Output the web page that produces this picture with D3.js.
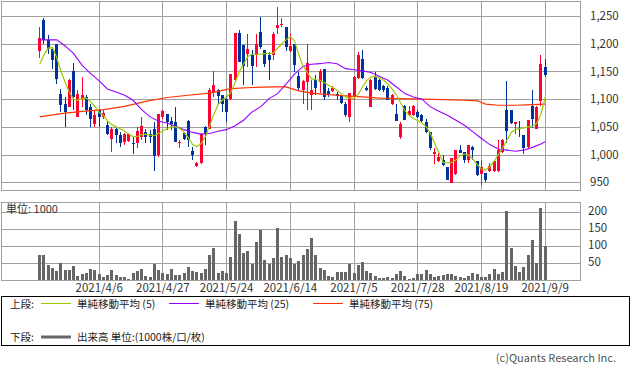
<!DOCTYPE html>
<html>
<head>
<meta charset="utf-8">
<script src="https://d3js.org/d3.v7.min.js"></script>
<style>
body { margin: 0; background: #fff; }
text { font-family: "Noto Sans CJK JP", sans-serif; }
</style>
</head>
<body>
<script>
// 0. data ****************************************************************
// trading days (categories), 2021
var dates = ['3/17','3/18','3/19','3/22','3/23','3/24','3/25','3/26','3/29','3/30','3/31',
  '4/1','4/2','4/5','4/6','4/7','4/8','4/9','4/12','4/13','4/14','4/15','4/16','4/19','4/20','4/21','4/22','4/23','4/26','4/27','4/28','4/30',
  '5/6','5/7','5/10','5/11','5/12','5/13','5/14','5/17','5/18','5/19','5/20','5/21','5/24','5/25','5/26','5/27','5/28','5/31',
  '6/1','6/2','6/3','6/4','6/7','6/8','6/9','6/10','6/11','6/14','6/15','6/16','6/17','6/18','6/21','6/22','6/23','6/24','6/25','6/28','6/29','6/30',
  '7/1','7/2','7/5','7/6','7/7','7/8','7/9','7/12','7/13','7/14','7/15','7/16','7/19','7/20','7/21','7/26','7/27','7/28','7/29','7/30',
  '8/2','8/3','8/4','8/5','8/6','8/10','8/11','8/12','8/13','8/16','8/17','8/18','8/19','8/20','8/23','8/24','8/25','8/26','8/27','8/30','8/31',
  '9/1','9/2','9/3','9/6','9/7','9/8','9/9'];

var openV = [1187,1242,1207,1191,1199,1109,1091,1086,1150,1068,1101,1104,1086,1055,1080,1068,1053,1029,1047,1035,
  1023,1025,1021,1020,1032,1041,1038,1047,999,1067,1073,1061,1059,1020,1039,1060,1007,979,984,1049,
  1047,1113,1117,1107,1101,1101,1134,1219,1197,1181,1179,1179,1221,1188,1179,1179,1229,1233,1230,1187,
  1200,1141,1116,1131,1107,1134,1131,1154,1115,1115,1109,1105,1092,1067,1105,1139,1173,1121,1085,1140,
  1134,1123,1121,1091,1074,1032,1087,1071,1071,1077,1071,1059,1041,1001,989,991,977,949,965,1009,
  1005,991,1014,988,965,966,971,971,971,1005,1080,1080,1055,1048,1035,1013,1087,1047,1097,1158];
var highV = [1230,1246,1215,1194,1200,1119,1104,1137,1165,1116,1140,1107,1092,1080,1083,1081,1061,1050,1050,1041,
  1039,1038,1032,1050,1068,1047,1044,1059,1074,1080,1074,1068,1086,1026,1041,1062,1014,987,1039,1051,
  1121,1151,1119,1107,1105,1146,1219,1224,1197,1218,1188,1218,1248,1188,1185,1221,1267,1247,1230,1218,
  1200,1149,1134,1199,1134,1143,1155,1154,1121,1123,1113,1107,1095,1111,1141,1185,1189,1123,1137,1149,
  1137,1125,1123,1110,1091,1059,1089,1087,1089,1080,1074,1065,1041,1011,1003,999,978,993,1009,1017,
  1005,1017,1015,988,991,967,984,991,1027,1029,1133,1081,1059,1061,1035,1062,1117,1087,1179,1173];
var lowV = [1175,1199,1182,1155,1128,1077,1049,1085,1080,1068,1086,1071,1049,1049,1050,1065,1035,1005,1020,1014,
  1017,1023,1001,1011,1026,1020,1020,971,996,1065,1045,1044,1023,1011,1026,1014,990,978,983,1017,
  1047,1104,1092,1077,1059,1098,1131,1167,1125,1158,1125,1158,1191,1158,1134,1170,1218,1231,1187,1185,
  1149,1116,1092,1080,1080,1107,1111,1099,1104,1113,1098,1092,1068,1059,1098,1137,1137,1115,1085,1117,
  1115,1113,1098,1089,1061,1029,1062,1069,1069,1066,1059,1039,1009,983,987,980,954,949,963,1002,
  984,984,991,961,945,951,969,969,969,1002,1021,1056,1038,1032,1001,1011,1048,1047,1087,1140];
var closeV = [1211,1207,1191,1171,1137,1089,1077,1134,1104,1109,1107,1080,1065,1071,1068,1075,1038,1047,1035,1021,
  1038,1037,1019,1042,1051,1032,1032,997,1073,1078,1059,1055,1023,1023,1029,1026,999,985,1038,1038,
  1117,1125,1105,1092,1077,1145,1219,1167,1159,1190,1159,1200,1194,1163,1171,1218,1233,1236,1194,1195,
  1161,1121,1133,1165,1117,1121,1150,1104,1110,1121,1105,1093,1071,1111,1140,1179,1139,1116,1135,1119,
  1116,1116,1099,1107,1061,1056,1063,1079,1087,1068,1061,1041,1011,1005,996,981,955,993,1008,1003,
  991,1017,1009,963,978,954,980,989,1009,1027,1043,1057,1058,1046,1011,1062,1065,1086,1163,1143];

// volume, unit 1000
var volumeV = [74,74,44,36,27,50,29,29,41,13,17,20,32,29,17,10,16,29,15,8,8,4,22,27,32,12,10,48,
  29,21,18,32,14,14,20,38,27,25,20,33,
  74,94,22,27,22,69,174,135,79,84,47,111,146,60,47,65,152,69,75,65,47,57,75,92,123,75,36,30,
  11,9,24,23,24,46,22,45,54,27,22,11,5,7,9,5,17,27,11,4,7,17,19,30,17,9,11,15,17,17,12,10,7,11,20,17,9,9,17,32,19,25,
  202,95,42,25,37,75,119,51,212,99];

// moving averages
var ma5 = [1163,1180,1192,1193,1175,1150,1130,1112,1100,1098,1101,1102,1095,1087,1076,1071,1060,1054,1050,1046,
  1042,1037,1032,1033,1036,1037,1035,1034,1038,1043,1047,1050,1050,1047,1040,1030,1018,1014,1020,1032,
  1052,1073,1090,1098,1104,1112,1130,1150,1164,1177,1181,1181,1181,1182,1182,1183,1192,1200,1207,1213,
  1205,1180,1160,1148,1137,1135,1134,1130,1125,1121,1116,1110,1104,1102,1101,1109,1122,1134,1140,1141,
  1138,1134,1127,1118,1107,1093,1079,1071,1065,1061,1057,1050,1038,1020,1003,986,985,986,990,998,
  1001,999,992,982,974,972,978,988,1000,1012,1026,1040,1045,1047,1048,1050,1051,1056,1072,1103];
var ma25 = [[0,1207],[4,1207],[6,1196],[8,1182],[10,1161],[12,1146],[14,1133],[16,1118],[18,1113],[20,1107],
  [22,1098],[24,1081],[26,1068],[28,1060],[30,1057],[32,1051],[34,1045],[36,1040],[38,1037],[40,1038],
  [42,1042],[44,1045],[46,1052],[48,1062],[50,1077],[52,1086],[54,1101],[56,1110],[58,1127],[60,1145],
  [62,1159],[64,1163],[66,1164],[68,1166],[70,1164],[72,1155],[74,1153],[76,1151],[78,1148],[80,1141],
  [82,1134],[84,1122],[86,1110],[88,1104],[90,1100],[92,1086],[94,1078],[96,1071],[98,1062],[100,1053],
  [102,1041],[104,1029],[106,1018],[108,1010],[110,1008],[112,1006],[114,1008],[116,1013],[118,1019],[119,1023]];
var ma75 = [[0,1068],[5,1074],[10,1078],[15,1081],[20,1087],[25,1096],[30,1103],[35,1107],[40,1111],[45,1119],
  [50,1121],[55,1122],[58,1122],[61,1115],[64,1111],[68,1108],[72,1106],[76,1104],[80,1102],[85,1101],
  [90,1100],[95,1099],[100,1098],[103,1097],[105,1091],[108,1089],[112,1089],[116,1090],[119,1091]];

// ticks
var priceTicks = [950, 1000, 1050, 1100, 1150, 1200, 1250];
var volTicks = [50, 100, 150, 200];
var dateTicks = ['4/6', '4/27', '5/24', '6/14', '7/5', '7/28', '8/19', '9/9'];

var colUp = '#ff0033', colDown = '#003399', colGrid = '#a0a0a0';

// 1. svg and scales *******************************************************
var svg = d3.select('body').append('svg')
  .attr('width', 634).attr('height', 370);

var x = d3.scaleLinear().domain([-9, 127.4]).range([1, 580.3]);
var yP = d3.scaleLinear().domain([950, 1250]).range([182.3, 16]);
var yV = d3.scaleLinear().domain([0, 200]).range([280, 212]);
function px(v) { return Math.round(v) + 0.5; }
var tickIdx = dateTicks.map(function(d) { return dates.indexOf(d); });

// 2. grid and frames ******************************************************
var grid = svg.append('g').attr('stroke', colGrid).attr('stroke-width', 1).attr('fill', 'none')
  .attr('shape-rendering', 'crispEdges');
grid.selectAll('.vg1').data(tickIdx).enter().append('line')
  .attr('x1', function(d) { return px(x(d)); }).attr('x2', function(d) { return px(x(d)); })
  .attr('y1', 1.5).attr('y2', 190.5);
grid.selectAll('.vg2').data(tickIdx).enter().append('line')
  .attr('x1', function(d) { return px(x(d)); }).attr('x2', function(d) { return px(x(d)); })
  .attr('y1', 202.5).attr('y2', 280.5);
grid.selectAll('.hp').data(priceTicks).enter().append('line')
  .attr('x1', 1.5).attr('x2', 580.5)
  .attr('y1', function(d) { return px(yP(d)); }).attr('y2', function(d) { return px(yP(d)); });
grid.selectAll('.hv').data(volTicks).enter().append('line')
  .attr('x1', 1.5).attr('x2', 580.5)
  .attr('y1', function(d) { return px(yV(d)); }).attr('y2', function(d) { return px(yV(d)); });
grid.append('rect').attr('x', 1.5).attr('y', 1.5).attr('width', 579).attr('height', 189);
grid.append('rect').attr('x', 1.5).attr('y', 202.5).attr('width', 579).attr('height', 78);

// 3. candles **************************************************************
var idx = d3.range(closeV.length);
var candles = svg.append('g').attr('shape-rendering', 'crispEdges');
candles.selectAll('.wick').data(idx).enter().append('line')
  .attr('x1', function(i) { return px(x(i)); }).attr('x2', function(i) { return px(x(i)); })
  .attr('y1', function(i) { return Math.round(yP(highV[i])); })
  .attr('y2', function(i) { return Math.round(yP(lowV[i])); })
  .attr('stroke', function(i) { return closeV[i] >= openV[i] ? colUp : colDown; })
  .attr('stroke-width', 1);
candles.selectAll('.body').data(idx).enter().append('rect')
  .attr('x', function(i) { return Math.round(x(i)) - 1; })
  .attr('width', 3)
  .attr('y', function(i) { return Math.round(yP(Math.max(openV[i], closeV[i]))); })
  .attr('height', function(i) {
    return Math.max(1, Math.round(yP(Math.min(openV[i], closeV[i]))) - Math.round(yP(Math.max(openV[i], closeV[i]))));
  })
  .attr('fill', function(i) { return closeV[i] >= openV[i] ? colUp : colDown; });

// 4. moving averages ******************************************************
var line5 = d3.line().x(function(d, i) { return x(i) + 0.5; }).y(function(d) { return yP(d); });
var linePair = d3.line().x(function(d) { return x(d[0]) + 0.5; }).y(function(d) { return yP(d[1]); });
svg.append('path').datum(ma75).attr('d', linePair)
  .attr('fill', 'none').attr('stroke', '#ff3300').attr('stroke-width', 1.2);
svg.append('path').datum(ma25).attr('d', linePair)
  .attr('fill', 'none').attr('stroke', '#9900ff').attr('stroke-width', 1.1);
svg.append('path').datum(ma5).attr('d', line5)
  .attr('fill', 'none').attr('stroke', '#99cc00').attr('stroke-width', 1.2);

// 5. volume ***************************************************************
svg.append('g').attr('shape-rendering', 'crispEdges')
  .selectAll('rect').data(idx).enter().append('rect')
  .attr('x', function(i) { return Math.round(x(i)) - 1; })
  .attr('width', 3)
  .attr('y', function(i) { return Math.round(yV(volumeV[i])); })
  .attr('height', function(i) { return 280 - Math.round(yV(volumeV[i])); })
  .attr('fill', '#666');

svg.append('text').attr('x', 6).attr('y', 213).attr('font-size', 11).attr('fill', '#333')
  .text('単位: 1000');

// 6. axes *****************************************************************
var axP = svg.append('g').attr('transform', 'translate(581,0)')
  .call(d3.axisRight(yP).tickValues(priceTicks).tickFormat(d3.format(',')).tickSize(0).tickPadding(9));
var axV = svg.append('g').attr('transform', 'translate(581,0)')
  .call(d3.axisRight(yV).tickValues(volTicks).tickSize(0).tickPadding(7));
var axD = svg.append('g').attr('transform', 'translate(0,280)')
  .call(d3.axisBottom(x).tickValues(tickIdx).tickFormat(function(i) { return '2021/' + dates[i]; })
    .tickSize(0).tickPadding(4));
[axP, axV, axD].forEach(function(a) {
  a.select('.domain').remove();
  a.attr('font-family', null).attr('font-size', null);
  a.selectAll('text').attr('font-size', 11.5).attr('fill', '#333');
});
axV.selectAll('text').attr('dy', '0.2em');

// 7. legend ***************************************************************
var lg = svg.append('g').attr('fill', '#222');
lg.append('rect').attr('x', 1.5).attr('y', 296.5).attr('width', 628).attr('height', 49)
  .attr('fill', 'none').attr('stroke', '#000').attr('stroke-width', 1);
var legendItems = [
  {label: '単純移動平均 (5)', color: '#99cc00', lx: 41},
  {label: '単純移動平均 (25)', color: '#9900ff', lx: 169},
  {label: '単純移動平均 (75)', color: '#ff3300', lx: 313}
];
lg.append('text').attr('x', 10).attr('y', 308).attr('font-size', 10.5).text('上段:');
lg.selectAll('.li').data(legendItems).enter().append('line')
  .attr('x1', function(d) { return d.lx; }).attr('x2', function(d) { return d.lx + 30; })
  .attr('y1', 303.5).attr('y2', 303.5)
  .attr('stroke', function(d) { return d.color; }).attr('stroke-width', 1);
lg.selectAll('.lt').data(legendItems).enter().append('text')
  .attr('x', function(d) { return d.lx + 36; }).attr('y', 308).attr('font-size', 10.5)
  .text(function(d) { return d.label; });
lg.append('text').attr('x', 10).attr('y', 341).attr('font-size', 10.5).text('下段:');
lg.append('line').attr('x1', 41).attr('x2', 71).attr('y1', 337).attr('y2', 337)
  .attr('stroke', '#666').attr('stroke-width', 3);
lg.append('text').attr('x', 77).attr('y', 341).attr('font-size', 10.5).text('出来高 単位:(1000株/口/枚)');

svg.append('text').attr('x', 616).attr('y', 362).attr('text-anchor', 'end')
  .attr('font-size', 11).attr('fill', '#555').text('(c)Quants Research Inc.');
</script>
</body>
</html>
